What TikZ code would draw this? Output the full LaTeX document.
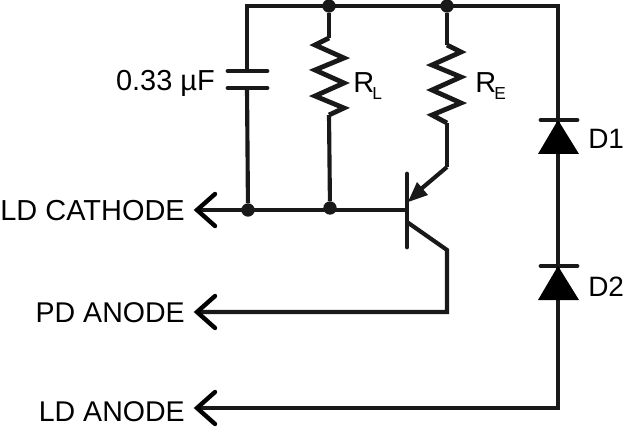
\documentclass[tikz,border=0pt]{standalone}
\usepackage{fontspec}
\setmainfont{Liberation Sans}
\begin{document}
\begin{tikzpicture}[x=0.75pt,y=-0.75pt,
  wire/.style={line width=3.1pt,color=black!90,line join=miter},
  thinwire/.style={line width=3.6pt,color=black!90,line cap=round,line join=miter},
  zig/.style={line width=3.6pt,color=black!90,line join=miter},
  dotn/.style={circle,fill=black!90,inner sep=0pt,minimum size=10pt},
  lbl/.style={font=\fontsize{21.7pt}{25pt}\selectfont,inner sep=0pt},
  nlbl/.style={font=\fontsize{21.4pt}{25pt}\selectfont,inner sep=0pt},
  dlbl/.style={font=\fontsize{21pt}{25pt}\selectfont,inner sep=0pt},
  sub/.style={font=\fontsize{13pt}{15pt}\selectfont,inner sep=0pt},
  arm/.style={line width=3.3pt,color=black,line cap=round,line join=miter},
  diodetri/.style={fill=black}]
\useasboundingbox (0,0) rectangle (625,431);
% junctions and points
\coordinate (tl) at (247,6);
\coordinate (tr) at (558,6);
\node[dotn] (jt1) at (329,6) {};
\node[dotn] (jt2) at (447,6) {};
\node[dotn] (jb1) at (248,210) {};
\node[dotn] (jb2) at (330,208) {};
\coordinate (capa) at (247,71);
\coordinate (capb) at (247,88);
\coordinate (lc) at (197,210);
\coordinate (pd) at (197,312);
\coordinate (la) at (197,408);
\coordinate (base) at (407,210);
\coordinate (cc) at (447,250);
\coordinate (cb) at (447,312);
\coordinate (ctop) at (407,222);
\coordinate (ee) at (447,167);
\coordinate (er) at (447,123);
\coordinate (et) at (447,45);
\coordinate (rlt) at (329,38);
\coordinate (rlb) at (329,115);
\coordinate (dc) at (558,408);
% wires
\draw[wire] (capa) -- (tl) -- (tr) -- (dc) -- (la);
\draw[wire] (capb) -- (jb1);
\draw[wire] (jt1) -- (rlt);
\draw[wire] (rlb) -- (jb2);
\draw[wire] (jt2) -- (et);
\draw[wire] (er) -- (ee);
\draw[wire] (lc) -- (base);
\draw[wire] (ctop) -- (cc) -- (cb) -- (pd);
\draw[wire] (ee) -- (421,189);
% capacitor
\draw[thinwire] (228,71) -- (267,71);
\draw[thinwire] (228,88) -- (267,88);
% resistors
\draw[zig] (rlt) -- (315,45) -- (344,58) -- (315,70) -- (344,83) -- (315,96) -- (344,108) -- (rlb);
\draw[zig] (et) -- (461,52) -- (432,65) -- (461,77) -- (432,90) -- (461,103) -- (432,115) -- (er);
% transistor
\draw[thinwire] (407,174) -- (407,247);
\fill[black!90] (408,202) -- (417,182) -- (428,195) -- cycle;
% diodes
\draw[thinwire] (541,120) -- (577,120);
\fill[diodetri] (558,120) -- (579,154) -- (538,154) -- cycle;
\draw[thinwire] (541,266) -- (577,266);
\fill[diodetri] (558,266) -- (579,300) -- (538,300) -- cycle;
% arrow heads
\draw[arm] (215,194) -- (lc) -- (215,226);
\draw[arm] (215,296) -- (pd) -- (215,328);
\draw[arm] (215,392) -- (la) -- (215,424);
% labels
\node[lbl,anchor=east] (t1) at (185,211) {LD CATHODE};
\node[nlbl,anchor=east] (t2) at (185,313) {PD ANODE};
\node[nlbl,anchor=east] (t3) at (185,412) {LD ANODE};
\node[lbl,anchor=east] (t4) at (215,83) {0.33 µF};
\node[lbl,anchor=west] (t5) at (353,83) {R};
\node[sub,anchor=west] (t6) at (372,94) {L};
\node[lbl,anchor=west] (t7) at (475,83) {R};
\node[sub,anchor=west] (t8) at (494,94) {E};
\node[dlbl,anchor=west] (t9) at (588,139) {D1};
\node[dlbl,anchor=west] (t10) at (588,287) {D2};
\end{tikzpicture}
\end{document}
